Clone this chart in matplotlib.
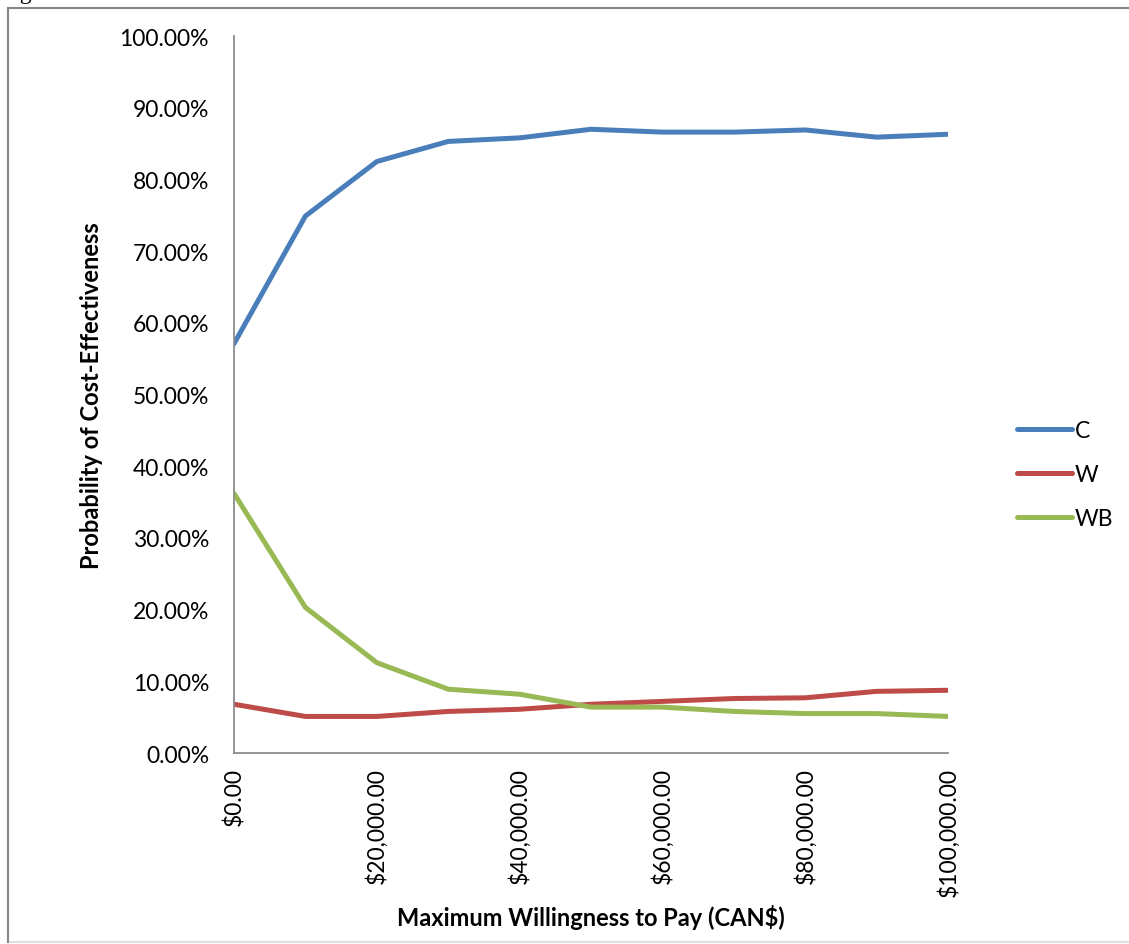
import matplotlib.pyplot as plt
from matplotlib.lines import Line2D
from matplotlib.ticker import FuncFormatter

# willingness to pay thresholds (CAN$)
wtp = [0, 10000, 20000, 30000, 40000, 50000, 60000, 70000, 80000, 90000, 100000]

# probability of cost-effectiveness
prob_c = [0.571, 0.749, 0.825, 0.853, 0.858, 0.870, 0.866, 0.866, 0.869, 0.859, 0.863]
prob_w = [0.068, 0.051, 0.051, 0.058, 0.061, 0.068, 0.072, 0.076, 0.077, 0.086, 0.0875]
prob_wb = [0.362, 0.203, 0.126, 0.089, 0.082, 0.064, 0.064, 0.058, 0.055, 0.055, 0.051]

series_names = ["C", "W", "WB"]
colors = ["#4A7EBB", "#BE4B48", "#98B954"]

plt.rcParams['font.family'] = ['Lato', 'DejaVu Sans']

fig = plt.figure(figsize=(11.29, 9.45), dpi=100)
ax = fig.add_axes([0.2073, 0.2021, 0.6324, 0.7587])

for vals, name, col in zip([prob_c, prob_w, prob_wb], series_names, colors):
    ax.plot(wtp, vals, color=col, linewidth=3.6, label=name,
            solid_capstyle='round', solid_joinstyle='round')

ax.set_xlim(0, 100000)
ax.set_ylim(0, 1.0)
ax.set_xticks(range(0, 100001, 20000))
ax.set_yticks([i / 10 for i in range(11)])
ax.xaxis.set_major_formatter(FuncFormatter(lambda v, p: "${:,.2f}".format(v)))
ax.yaxis.set_major_formatter(FuncFormatter(lambda v, p: "{:.2f}%".format(v * 100)))
ax.tick_params(axis='both', length=0, labelsize=16.5, colors='black')
ax.tick_params(axis='x', rotation=90, pad=10)
ax.tick_params(axis='y', pad=18)
for lab in ax.get_xticklabels():
    lab.set_verticalalignment('top')

for s in ['top', 'right']:
    ax.spines[s].set_visible(False)
for s in ['left', 'bottom']:
    ax.spines[s].set_color('#8C8C8C')
    ax.spines[s].set_linewidth(1.3)

ax.set_xlabel("Maximum Willingness to Pay (CAN$)", fontsize=17, fontweight='bold', labelpad=6)
ax.set_ylabel("Probability of Cost-Effectiveness", fontsize=17, fontweight='bold', labelpad=12)

ax.legend(loc='center left', bbox_to_anchor=(0.893, 0.497), bbox_transform=fig.transFigure,
          frameon=False, fontsize=16.5, handlelength=2.4, handletextpad=0.1,
          labelspacing=1.0, borderaxespad=0)

# outer chart frame (partially cropped in the original)
fig.add_artist(Line2D([8 / 1129, 8 / 1129], [1 - 943 / 945, 1 - 9 / 945],
                      transform=fig.transFigure, color='#868686', linewidth=1.5))
fig.add_artist(Line2D([8 / 1129, 1.0], [1 - 9 / 945, 1 - 9 / 945],
                      transform=fig.transFigure, color='#868686', linewidth=1.5))
fig.add_artist(Line2D([10 / 1129, 1.0], [1 - 943 / 945, 1 - 943 / 945],
                      transform=fig.transFigure, color='#E0E0E0', linewidth=1.5))

# caption above the chart, mostly cut off at the top edge like the source
fig.text(0.0, 1.0 + 1.5 / 945, "Figure 3: CEAC Societal Costs at 12 Months",
         fontsize=17, family=['Liberation Serif'], va='baseline', ha='left')

fig.savefig("out.png", dpi=100)
